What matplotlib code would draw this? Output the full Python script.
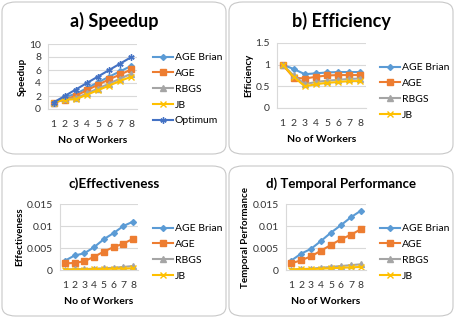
import numpy as np
import matplotlib
matplotlib.use("Agg")
import matplotlib.pyplot as plt
from matplotlib.patches import FancyBboxPatch

plt.rcParams["font.family"] = ["Lato", "DejaVu Sans"]

workers = [1, 2, 3, 4, 5, 6, 7, 8]

speed_brian = [1, 1.8, 2.34, 3.2, 4.1, 4.98, 5.81, 6.64]
speed_age = [1, 1.4, 2.04, 2.88, 3.75, 4.56, 5.32, 6.08]
speed_rbgs = [1, 1.5, 1.65, 2.4, 3.15, 3.9, 4.69, 5.44]
speed_jb = [1, 1.44, 1.5, 2.2, 2.9, 3.6, 4.34, 4.96]
speed_opt = [1, 2, 3, 4, 5, 6, 7, 8]

eff_brian = [1, 0.9, 0.78, 0.8, 0.82, 0.83, 0.83, 0.83]
eff_age = [1, 0.7, 0.68, 0.72, 0.75, 0.76, 0.76, 0.76]
eff_rbgs = [1, 0.75, 0.55, 0.6, 0.63, 0.65, 0.67, 0.68]
eff_jb = [1, 0.72, 0.5, 0.55, 0.58, 0.6, 0.62, 0.62]

effv_brian = [0.0021, 0.0033, 0.0038, 0.0052, 0.007, 0.0084, 0.01, 0.011]
effv_age = [0.0015, 0.0016, 0.002, 0.003, 0.0042, 0.0052, 0.006, 0.0071]
effv_rbgs = [0.0001, 0.0002, 0.0002, 0.0003, 0.0004, 0.0005, 0.0007, 0.0009]
effv_jb = [0.0001, 0.0001, 0.0001, 0.0002, 0.0002, 0.0003, 0.0003, 0.0004]

temp_brian = [0.0021, 0.0037, 0.0048, 0.0066, 0.0085, 0.0102, 0.012, 0.0135]
temp_age = [0.0015, 0.0022, 0.0031, 0.0044, 0.0057, 0.007, 0.008, 0.0093]
temp_rbgs = [0.0001, 0.0002, 0.0003, 0.0005, 0.0007, 0.0009, 0.0011, 0.0013]
temp_jb = [0.0001, 0.0002, 0.0002, 0.0003, 0.0004, 0.0005, 0.0006, 0.0007]

styles = {
    "AGE Brian": dict(color="#5B9BD5", marker="D", ms=3),
    "AGE": dict(color="#ED7D31", marker="s", ms=4.5),
    "RBGS": dict(color="#A5A5A5", marker="^", ms=4),
    "JB": dict(color="#FFC000", marker="x", ms=4),
    "Optimum": dict(color="#4472C4", marker=(6, 2, 0), ms=4.5),
}

W, H = 455, 318
fig = plt.figure(figsize=(W / 100, H / 100), dpi=100)


def px_rect(x0, y0, x1, y1):
    return [x0 / W, 1 - y1 / H, (x1 - x0) / W, (y1 - y0) / H]


def panel_box(x0, y0, x1, y1):
    r = px_rect(x0, y0, x1, y1)
    fig.patches.append(FancyBboxPatch((r[0], r[1]), r[2], r[3],
                                      boxstyle="round,pad=0,rounding_size=0.03",
                                      transform=fig.transFigure, fc="white",
                                      ec="#C8C8C8", lw=0.8, zorder=-1))


def panel(box, plot, title, ylabel, series, ylim, yticks, leg_pos):
    panel_box(*box)
    ax = fig.add_axes(px_rect(*plot))
    for name, vals in series:
        st = styles[name]
        ax.plot(workers, vals, color=st["color"], marker=st["marker"],
                ms=st["ms"], lw=1.5, mew=1.0, label=name)
    ax.set_xlim(0.5, 8.5)
    ax.set_ylim(*ylim)
    ax.set_xticks(workers)
    ax.set_yticks(yticks)
    ax.set_yticklabels([f"{v:g}" for v in yticks])
    ax.tick_params(length=0, labelsize=7.5, pad=5, labelcolor="#333333")
    ax.tick_params(axis="x", pad=8)
    ax.grid(axis="y", color="#D9D9D9", lw=0.8)
    ax.set_axisbelow(True)
    for s in ["top", "right"]:
        ax.spines[s].set_visible(False)
    ax.spines["left"].set_color("#D9D9D9")
    ax.spines["bottom"].set_color("#D9D9D9")
    ax.set_xlabel("No of Workers", fontsize=7.5, fontweight="bold", labelpad=5)
    ax.set_ylabel(ylabel, fontsize=7, fontweight="bold", labelpad=2)
    cx = (box[0] + box[2]) / 2 / W
    fig.text(cx, 1 - title[1] / H, title[0], ha="center", va="center",
             fontsize=title[2], fontweight="bold")
    ax.legend(loc="upper left", frameon=False, fontsize=7.5,
              bbox_to_anchor=(leg_pos[0] / W, 1 - leg_pos[1] / H),
              bbox_transform=fig.transFigure, handlelength=1.9,
              labelspacing=0.62, handletextpad=0.2, borderpad=0,
              borderaxespad=0)
    return ax


panel((2, 2, 226, 154), (48, 44, 137, 109), ("a) Speedup", 21, 13),
      "Speedup",
      [("AGE Brian", speed_brian), ("AGE", speed_age), ("RBGS", speed_rbgs),
       ("JB", speed_jb), ("Optimum", speed_opt)],
      (0, 10), [0, 2, 4, 6, 8, 10], (153, 53))

panel((229, 2, 453, 154), (277, 43, 366, 108), ("b) Efficiency", 21, 13),
      "Efficiency",
      [("AGE Brian", eff_brian), ("AGE", eff_age), ("RBGS", eff_rbgs),
       ("JB", eff_jb)],
      (0, 1.5), [0, 0.5, 1, 1.5], (380, 63))

panel((2, 166, 226, 316), (60, 204, 138, 270), ("c)Effectiveness", 184, 9.7),
      "Effectiveness",
      [("AGE Brian", effv_brian), ("AGE", effv_age), ("RBGS", effv_rbgs),
       ("JB", effv_jb)],
      (0, 0.015), [0, 0.005, 0.01, 0.015], (153, 224))

panel((229, 166, 453, 316), (286, 204, 366, 270),
      ("d) Temporal Performance", 184, 9.5), "Temporal Performance",
      [("AGE Brian", temp_brian), ("AGE", temp_age), ("RBGS", temp_rbgs),
       ("JB", temp_jb)],
      (0, 0.015), [0, 0.005, 0.01, 0.015], (380, 224))

fig.savefig("out.png", dpi=100)
